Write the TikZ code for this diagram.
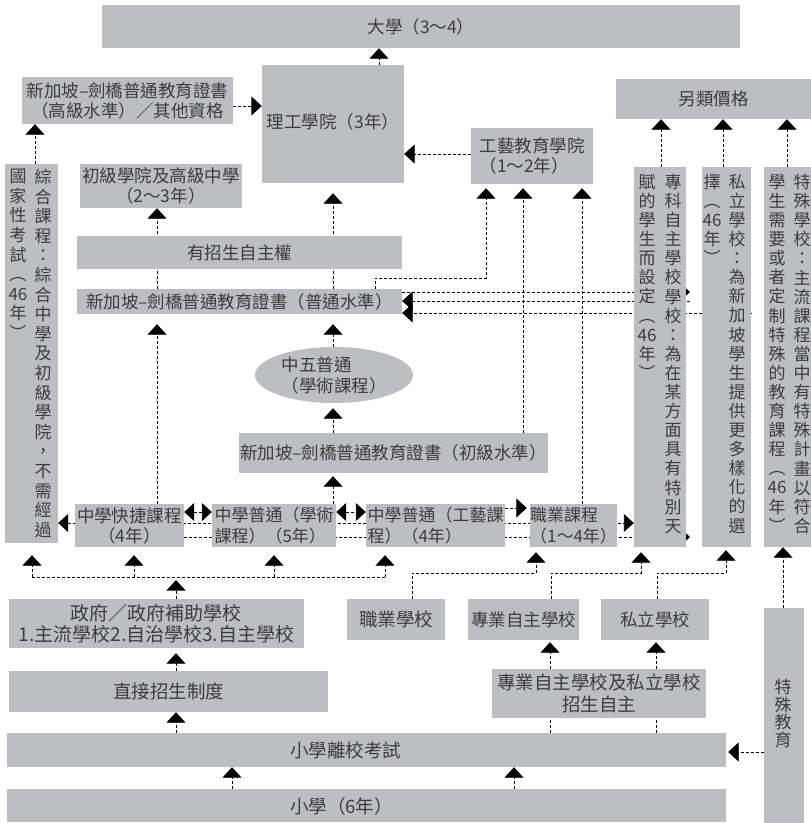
\documentclass[tikz,border=0pt]{standalone}
\usepackage{fontspec}
\setmainfont{Noto Sans CJK TC}
\usetikzlibrary{arrows.meta,backgrounds,shapes.geometric}
\definecolor{boxgray}{RGB}{188,190,193}
\definecolor{txt}{RGB}{60,60,60}
\tikzset{
  box/.style={fill=boxgray, text=txt, inner sep=0pt, align=center, font=\fontsize{17.5}{20}\selectfont},
  big/.style={font=\fontsize{18.5}{22}\selectfont},
  dl/.style={draw=black, line width=0.9pt, dash pattern=on 3pt off 2pt},
  arr/.style={dl, -{Triangle[width=19pt,length=10.5pt]}},
  darr/.style={dl, {Triangle[width=18pt,length=10pt]}-{Triangle[width=18pt,length=10pt]}},
  vtext/.style={text=txt, inner sep=0pt, align=center, anchor=north, font=\fontsize{17}{#1}\selectfont},
  vtext/.default=19.1,
  tx/.style={text=txt, inner sep=0pt, font=\fontsize{18.5}{22}\selectfont},
}
\newcommand\bx[7][]{\node[box,minimum width={(#5)-(#3)},minimum height={(#6)-(#4)},#1] (#2) at ({((#3)+(#5))/2},{((#4)+(#6))/2}) {#7};}
\begin{document}
\begin{tikzpicture}[x=1pt,y=-1pt]
\useasboundingbox (0,0) rectangle (811,823);
% ---------- boxes ----------
\bx{uni}{102}{5}{740}{48}{大學（3～4）}
\bx{poly}{262}{65}{404}{183}{\raisebox{6pt}{理工學院（3年）}}
\bx{alevel}{22}{77}{233}{124}{新加坡–劍橋普通教育證書\\（高級水準）／其他資格}
\bx[align=left]{ite}{471}{128}{593}{184}{工藝教育學院\\（1～2年）}
\bx{alt}{616}{79}{811}{119}{另類價格}
\bx{jc}{80}{164}{242}{208}{初級學院及高級中學\\（2～3年）}
\bx{auto}{77}{236}{402}{269}{有招生自主權}
\bx{olevel}{77}{289}{402}{314}{新加坡–劍橋普通教育證書（普通水準）}
\node[ellipse, fill=boxgray, text=txt, inner sep=0pt, minimum width=158, minimum height=56, align=left, font=\fontsize{17.5}{21}\selectfont] (sec5) at (334,375) {中五普通\\（學術課程）};
\bx{nlevel}{239}{433}{548}{473}{新加坡–劍橋普通教育證書（初級水準）}
\bx{exp}{75}{504}{184}{547}{中學快捷課程\\（4年）}
\bx[align=left,font=\fontsize{17}{21}\selectfont]{acad}{212}{504}{336}{547}{中學普通（學術\\課程）（5年）}
\bx[align=left,font=\fontsize{17}{21}\selectfont]{tech}{366}{504}{505}{547}{中學普通（工藝課\\程）（4年）}
\bx[align=left,font=\fontsize{17}{21}\selectfont]{voc}{530}{504}{617}{547}{職業課程\\（1～4年）}
% vertical boxes
\bx{ngc}{5}{164}{58}{543}{}
\bx{zk}{634}{167}{686}{547}{}
\bx{sl}{702}{167}{751}{547}{}
\bx{ts}{764}{167}{811}{547}{}
\bx{sped}{764}{608}{804}{823}{}
% lower boxes
\bx[font=\fontsize{19}{21}\selectfont]{gov}{9}{599}{304}{648}{政府／政府補助學校\\1.主流學校2.自治學校3.自主學校}
\bx[big]{vocs}{347}{599}{445}{640}{職業學校}
\bx{spec}{468}{599}{579}{640}{專業自主學校}
\bx{priv}{601}{599}{709}{640}{私立學校}
\bx[big]{dsa}{9}{671}{328}{712}{直接招生制度}
\bx[big]{adm}{492}{669}{706}{718}{專業自主學校及私立學校\\招生自主}
\bx{psle}{7}{733}{726}{767}{}
\bx{pri}{7}{789}{726}{822}{}
\node[tx, anchor=west] (psleT) at (290,750) {小學離校考試};
\node[tx, anchor=west] (priT) at (290,806) {小學（6年）};
% vertical texts
\node[vtext=19.6] (ngcR) at (43,169) {綜\\合\\課\\程\\：\\綜\\合\\中\\學\\及\\初\\級\\學\\院\\，\\不\\需\\經\\過};
\node[vtext=19.6] (ngcL) at (18,169) {國\\家\\性\\考\\試\\︵\\46\\年\\︶};
\node[vtext] (zkR) at (673,174) {專\\科\\自\\主\\學\\校\\學\\校\\：\\為\\在\\某\\方\\面\\具\\有\\特\\別\\天};
\node[vtext] (zkL) at (647,174) {賦\\的\\學\\生\\而\\設\\定\\︵\\46\\年\\︶};
\node[vtext] (slR) at (737,174) {私\\立\\學\\校\\：\\為\\新\\加\\坡\\學\\生\\提\\供\\更\\多\\樣\\化\\的\\選};
\node[vtext] (slL) at (712,174) {擇\\︵\\46\\年\\︶};
\node[vtext] (tsR) at (802,174) {特\\殊\\學\\校\\：\\主\\流\\課\\程\\當\\中\\有\\特\\殊\\計\\畫\\以\\符\\合};
\node[vtext] (tsL) at (777,174) {學\\生\\需\\要\\或\\者\\定\\制\\特\\殊\\的\\教\\育\\課\\程\\︵\\46\\年\\︶};
\node[vtext=17.7] (spedT) at (783,679) {特\\殊\\教\\育};
% ---------- connectors ----------
\begin{scope}[on background layer]
\coordinate (c379) at (379,0);
\draw[arr] (poly.north -| c379) -- (uni.south -| c379);
\coordinate (r106) at (0,106);
\draw[arr] (alevel.east |- r106) -- (poly.west |- r106);
\coordinate (r154) at (0,154);
\draw[arr] (ite.west |- r154) -- (poly.east |- r154);
\coordinate (c35) at (35,0);
\draw[arr] (ngc.north -| c35) -- (alevel.south -| c35);
\coordinate (c157) at (157,0);
\draw[arr] (olevel.north -| c157) -- (jc.south -| c157);
\coordinate (c333) at (333,0);
\draw[arr,shorten >=10pt] (olevel.north -| c333) -- (poly.south -| c333);
\coordinate (k1) at (375,278); \coordinate (k2) at (486,278);
\draw[arr,shorten >=4pt] (olevel.north -| k1) -- (k1) -- (k2) -- (ite.south -| k2);
\coordinate (c523) at (523,0);
\draw[arr,shorten >=4pt] (nlevel.north -| c523) -- (ite.south -| c523);
\coordinate (c582) at (582,0);
\draw[arr,shorten >=4pt] (voc.north -| c582) -- (ite.south -| c582);
\coordinate (c661) at (661,0); \coordinate (c723) at (723,0); \coordinate (c787) at (787,0);
\draw[arr] (zk.north -| c661) -- (alt.south -| c661);
\draw[arr] (sl.north -| c723) -- (alt.south -| c723);
\draw[arr] (ts.north -| c787) -- (alt.south -| c787);
\coordinate (e292) at (690,292); \coordinate (e301) at (690,301); \coordinate (e313) at (752,313);
\draw[arr] (olevel.east |- e292) -- (e292);
\draw[arr] (e301) -- (olevel.east |- e301);
\draw[arr] (e313) -- (olevel.east |- e313);
\draw[arr,shorten >=10pt] (sec5.north -| c333) -- (olevel.south -| c333);
\draw[arr,shorten >=5pt] (nlevel.north -| c333) -- (sec5.south -| c333);
\draw[arr,shorten >=3pt] (acad.north -| c333) -- (nlevel.south -| c333);
\draw[arr,shorten >=10pt] (exp.north -| c157) -- (olevel.south -| c157);
\coordinate (r512) at (0,512);
\draw[darr] (exp.east |- r512) -- (acad.west |- r512);
\draw[darr] (acad.east |- r512) -- (tech.west |- r512);
\coordinate (r508) at (0,508);
\draw[arr,shorten >=3pt] (tech.east |- r508) -- (voc.west |- r508);
\coordinate (r523) at (0,523);
\draw[darr] (ngc.east |- r523) -- (zk.west |- r523);
\coordinate (e537) at (690,537);
\draw[arr] (exp.east |- e537) -- (e537);
% lower
\coordinate (hj) at (176,577); \coordinate (hjt) at (176,580);
\draw[arr] (gov.north -| hjt) -- (hjt);
\coordinate (hl) at (32,577); \coordinate (hr) at (385,577);
\coordinate (h134) at (134,577); \coordinate (h274) at (274,577);
\draw[dl] (hl) -- (hr);
\draw[arr,shorten >=12pt] (hl) -- (ngc.south -| hl);
\draw[arr,shorten >=8pt] (h134) -- (exp.south -| h134);
\draw[arr,shorten >=8pt] (h274) -- (acad.south -| h274);
\draw[arr,shorten >=8pt] (hr) -- (tech.south -| hr);
\draw[arr,shorten >=5pt] (dsa.north -| hj) -- (gov.south -| hj);
\draw[arr] (psle.north -| hj) -- (dsa.south -| hj);
\coordinate (c232) at (232,0); \coordinate (c514) at (514,0);
\draw[arr] (pri.north -| c232) -- (psle.south -| c232);
\draw[arr] (pri.north -| c514) -- (psle.south -| c514);
\coordinate (r752) at (0,752);
\draw[arr,shorten >=2pt] (sped.west |- r752) -- (psle.east |- r752);
\coordinate (c783) at (783,0);
\draw[arr] (sped.north -| c783) -- (ts.south -| c783);
\coordinate (v1) at (412,573); \coordinate (v2) at (536,573);
\draw[arr,shorten >=5pt] (vocs.north -| v1) -- (v1) -- (v2) -- (voc.south -| v2);
\coordinate (s1) at (551,573); \coordinate (s2) at (641,573);
\draw[arr,shorten >=5pt] (spec.north -| s1) -- (s1) -- (s2) -- (zk.south -| s2);
\coordinate (p1) at (657,573); \coordinate (p2) at (726,573);
\draw[arr,shorten >=3pt] (priv.north -| p1) -- (p1) -- (p2) -- (sl.south -| p2);
\coordinate (c550) at (550,0); \coordinate (c656) at (656,0);
\draw[arr,shorten >=2pt] (adm.north -| c550) -- (spec.south -| c550);
\draw[arr,shorten >=2pt] (adm.north -| c656) -- (priv.south -| c656);
\draw[dl] (psle.north -| c550) -- (adm.south -| c550);
\draw[dl] (psle.north -| c656) -- (adm.south -| c656);
\end{scope}
\end{tikzpicture}
\end{document}
